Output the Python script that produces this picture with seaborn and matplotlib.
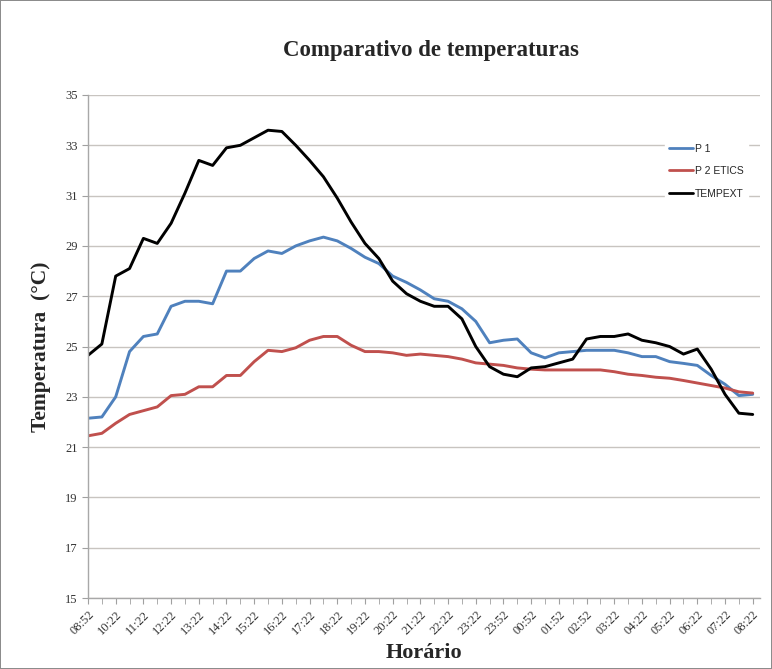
import matplotlib
matplotlib.use("Agg")
import matplotlib.pyplot as plt
import numpy as np
import pandas as pd
import seaborn as sns

# tick labels along the time axis (category axis, irregular steps)
TIME_LABELS = [
    "08:52", "10:22", "11:22", "12:22", "13:22", "14:22", "15:22", "16:22",
    "17:22", "18:22", "19:22", "20:22", "21:22", "22:22", "23:22", "23:52",
    "00:52", "01:52", "02:52", "03:22", "04:22", "05:22", "06:22", "07:22", "08:22",
]

# readings, two per labelled step
P1 = [
    22.15, 22.2, 23.0, 24.8, 25.4, 25.5, 26.6, 26.8, 26.8, 26.7,
    28.0, 28.0, 28.5, 28.8, 28.7, 29.0, 29.2, 29.35, 29.2, 28.9,
    28.55, 28.3, 27.8, 27.55, 27.25, 26.9, 26.8, 26.5, 26.0, 25.15,
    25.25, 25.3, 24.75, 24.55, 24.75, 24.8, 24.85, 24.85, 24.85, 24.75,
    24.6, 24.6, 24.4, 24.33, 24.25, 23.85, 23.5, 23.05, 23.1,
]
P2_ETICS = [
    21.45, 21.55, 21.95, 22.3, 22.45, 22.6, 23.05, 23.1, 23.4, 23.4,
    23.85, 23.85, 24.4, 24.85, 24.8, 24.95, 25.25, 25.4, 25.4, 25.05,
    24.8, 24.8, 24.75, 24.65, 24.7, 24.65, 24.6, 24.5, 24.35, 24.3,
    24.25, 24.15, 24.1, 24.07, 24.07, 24.07, 24.07, 24.07, 24.0, 23.9,
    23.85, 23.78, 23.74, 23.65, 23.55, 23.45, 23.35, 23.2, 23.15,
]
TEMPEXT = [
    24.65, 25.1, 27.8, 28.1, 29.3, 29.1, 29.9, 31.1, 32.4, 32.2,
    32.9, 33.0, 33.3, 33.6, 33.55, 33.0, 32.4, 31.75, 30.9, 29.95,
    29.1, 28.5, 27.6, 27.1, 26.8, 26.6, 26.6, 26.1, 25.0, 24.2,
    23.9, 23.8, 24.15, 24.2, 24.35, 24.5, 25.3, 25.4, 25.4, 25.5,
    25.25, 25.15, 25.0, 24.7, 24.9, 24.1, 23.1, 22.35, 22.3,
]

SERIES = {"P 1": P1, "P 2 ETICS": P2_ETICS, "TEMPEXT": TEMPEXT}
COLORS = {"P 1": "#4F81BD", "P 2 ETICS": "#C0504D", "TEMPEXT": "#000000"}

sns.set_style("white")
plt.rcParams["font.family"] = ["Liberation Serif", "DejaVu Serif"]

frames = []
for name, vals in SERIES.items():
    frames.append(pd.DataFrame({"idx": np.arange(len(vals)), "temp": vals, "serie": name}))
df = pd.concat(frames, ignore_index=True)

fig = plt.figure(figsize=(7.72, 6.69), dpi=100)
fig.patch.set_edgecolor("#8c8c8c")
fig.patch.set_linewidth(1.2)
ax = fig.add_axes([0.114, 0.106, 0.870, 0.752])

sns.lineplot(data=df, x="idx", y="temp", hue="serie", palette=COLORS,
             linewidth=2.1, ax=ax, legend=True)

n = len(P1)
ax.set_xlim(0, n - 1 + 0.5)
ax.set_ylim(15, 35)
ax.set_yticks(np.arange(15, 36, 2))
ax.set_xticks(np.arange(0, n, 2))
ax.set_xticks(np.arange(0, n, 1), minor=True)
ax.set_xticklabels(TIME_LABELS, rotation=45, ha="right", rotation_mode="anchor",
                   fontsize=9, color="#333333")
ax.tick_params(axis="y", labelsize=9, labelcolor="#333333", length=4, color="#a0a0a0",
               direction="out", left=True)
ax.tick_params(axis="x", which="both", length=4, color="#a0a0a0", direction="out", bottom=True)

ax.yaxis.grid(True, color="#c8c4c0", linewidth=1.0)
ax.set_axisbelow(True)
for side in ["top", "right"]:
    ax.spines[side].set_visible(False)
for side in ["left", "bottom"]:
    ax.spines[side].set_color("#a8a8a8")
    ax.spines[side].set_linewidth(1.0)

ax.set_xlabel("Horário", fontsize=16, fontweight="bold", labelpad=4)
ax.set_ylabel("Temperatura  (°C)", fontsize=15.5, fontweight="bold", labelpad=10)
fig.text(0.558, 0.924, "Comparativo de temperaturas", ha="center", va="center",
         fontsize=16.5, fontweight="bold")

leg = ax.legend(loc="upper right", bbox_to_anchor=(0.99, 0.922), frameon=True,
                edgecolor="white", facecolor="white", framealpha=1.0,
                handlelength=2.3, handletextpad=0.15, labelspacing=1.2,
                prop={"family": "Liberation Sans", "size": 7.5})
for line in leg.get_lines():
    line.set_linewidth(2.0)

fig.savefig("out.png", dpi=100)
